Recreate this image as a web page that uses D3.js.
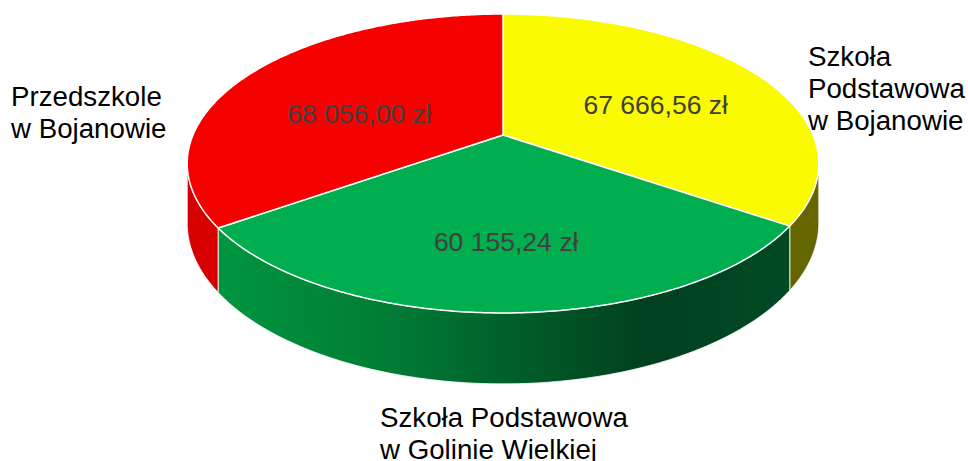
<!DOCTYPE html>
<html>
<head>
<meta charset="utf-8">
<script src="https://cdn.jsdelivr.net/npm/d3@7"></script>
<style>
  body { margin: 0; background: #fff; }
  svg { display: block; font-family: "Liberation Sans", Arial, sans-serif; }
  .value { fill: #404040; font-size: 26.5px; }
  .cat { fill: #000; font-size: 27.7px; }
</style>
</head>
<body>
<svg id="chart" width="970" height="461"></svg>
<script>
// data
const categories = [
  ["Szkoła", "Podstawowa", "w Bojanowie"],
  ["Szkoła Podstawowa", "w Golinie Wielkiej"],
  ["Przedszkole", "w Bojanowie"]
]
const values = [67666.56, 60155.24, 68056.00]
const valueLabels = ["67 666,56 zł", "60 155,24 zł", "68 056,00 zł"]
const topColors = ["#fafa00", "#00ae4f", "#f70000"]
const wallColors = ["#666600", "url(#greenWall)", "#d60000"]

const svg = d3.select("#chart")

// perspective projection of the pie disk (r 0..1, angle clockwise from 12 o'clock, z = depth 0..1)
const cx = 503, cy0 = 135, ay = 118.3, persp = -0.1906, kx = 310, depth = 57.4
const proj = (r, t, z) => {
    const u = r * Math.sin(t), v = -r * Math.cos(t)
    const w = 1 + persp * v
    return [cx + kx * u / w, (cy0 + ay * v) / w + z * depth / w]
}

const pie = d3.pie().sort(null).value(d => d)
const arcs = pie(values)

const tL = Math.acos(persp), tR = 2 * Math.PI - Math.acos(persp)

const samples = (t0, t1, z) => {
    const n = Math.max(2, Math.ceil((t1 - t0) / 0.01))
    return d3.range(n + 1).map(i => proj(1, t0 + (t1 - t0) * i / n, z))
}

const defs = svg.append("defs")
const grad = defs.append("linearGradient")
    .attr("id", "greenWall")
    .attr("gradientUnits", "userSpaceOnUse")
    .attr("x1", proj(1, arcs[1].endAngle, 0)[0]).attr("x2", proj(1, arcs[1].startAngle, 0)[0])
    .attr("y1", 0).attr("y2", 0)
grad.selectAll("stop")
    .data([[0, "#00963f"], [0.3, "#007c35"], [0.55, "#005a28"], [0.75, "#00401f"], [1, "#004a24"]])
    .enter().append("stop")
    .attr("offset", d => d[0])
    .attr("stop-color", d => d[1])

const line = d3.line()

// outer walls (front half only)
arcs.forEach((a, i) => {
    const t0 = Math.max(a.startAngle, tL), t1 = Math.min(a.endAngle, tR)
    if (t1 <= t0) return
    const pts = samples(t0, t1, 0).concat(samples(t0, t1, 1).reverse())
    svg.append("path")
        .attr("d", line(pts) + "Z")
        .attr("fill", wallColors[i])
        .attr("stroke", "#fff")
        .attr("stroke-opacity", 0.8)
        .attr("stroke-width", 1)
})

// top face
const topPolys = arcs.map(a => [proj(0, 0, 0)].concat(samples(a.startAngle, a.endAngle, 0)))

svg.selectAll("path.top")
    .data(topPolys)
    .enter().append("path")
    .attr("class", "top")
    .attr("d", d => line(d) + "Z")
    .attr("fill", (d, i) => topColors[i])
    .attr("stroke", "#fff")
    .attr("stroke-width", 1.5)
    .attr("stroke-linejoin", "round")

// value labels near slice centroid (small nudge to sit like Excel places them)
const nudge = [[-1.5, -8], [2, 7], [11, 0]]
svg.selectAll("text.value")
    .data(topPolys)
    .enter().append("text")
    .attr("class", "value")
    .attr("x", (d, i) => d3.polygonCentroid(d)[0] + nudge[i][0])
    .attr("y", (d, i) => d3.polygonCentroid(d)[1] + nudge[i][1] + 9.5)
    .attr("text-anchor", "middle")
    .text((d, i) => valueLabels[i])

// category labels
const catPos = [[808, 66], [380, 427], [11, 106]]
categories.forEach((lines, i) => {
    const t = svg.append("text")
        .attr("class", "cat")
        .attr("x", catPos[i][0])
        .attr("y", catPos[i][1])
    lines.forEach((s, j) => {
        t.append("tspan")
            .attr("x", catPos[i][0])
            .attr("dy", j === 0 ? 0 : 32)
            .text(s)
    })
})
</script>
</body>
</html>
